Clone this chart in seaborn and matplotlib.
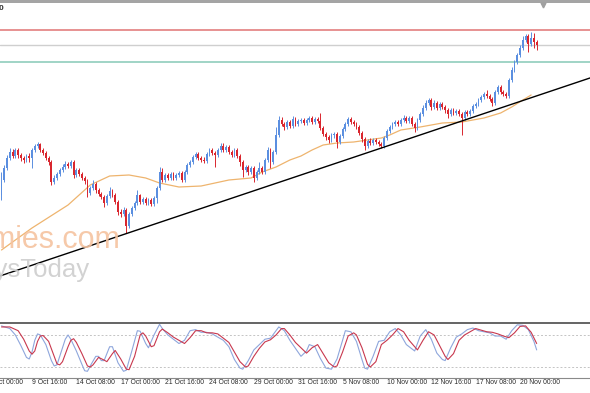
import matplotlib
matplotlib.use("Agg")
import matplotlib.pyplot as plt
from matplotlib.patches import Rectangle
from matplotlib.lines import Line2D
import matplotlib.transforms as mtransforms
import numpy as np
import pandas as pd
import seaborn as sns

# ---------------- data (H4 candles, price in chart points) ----------------
first_open = 205
closes = [220, 232, 242, 248, 244, 250, 245, 242, 240, 244,
          242, 250, 254, 256, 250, 247, 242, 238, 218, 222,
          226, 230, 233, 236, 234, 238, 225, 230, 226, 222,
          219, 207, 212, 216, 210, 206, 203, 197, 204, 209,
          205, 198, 188, 186, 190, 174, 186, 192, 197, 205,
          198, 201, 197, 200, 196, 202, 212, 228, 220, 225,
          222, 226, 222, 225, 227, 220, 228, 235, 238, 243,
          246, 242, 240, 239, 246, 250, 247, 245, 250, 254,
          250, 253, 248, 245, 250, 244, 238, 230, 233, 228,
          232, 222, 228, 232, 228, 240, 250, 238, 248, 265,
          280, 276, 273, 278, 274, 281, 276, 279, 280, 277,
          280, 282, 278, 281, 279, 272, 266, 263, 260, 265,
          266, 258, 264, 271, 276, 281, 278, 276, 273, 267,
          261, 254, 259, 257, 260, 258, 256, 254, 262, 269,
          273, 276, 278, 276, 280, 282, 279, 282, 276, 272,
          280, 286, 292, 297, 300, 293, 297, 292, 296, 293,
          290, 286, 290, 287, 289, 286, 282, 288, 286, 289,
          294, 296, 300, 303, 306, 304, 301, 297, 308, 313,
          308, 306, 304, 320, 330, 338, 345, 352, 360, 364,
          356, 362, 358, 355]
highs = [228, 235, 245, 252, 251, 252, 252, 247, 244, 246,
         247, 252, 256, 258, 257, 252, 249, 244, 240, 225,
         228, 232, 236, 239, 238, 240, 240, 232, 232, 228,
         224, 221, 214, 220, 218, 212, 208, 205, 206, 213,
         211, 207, 200, 191, 193, 192, 188, 194, 199, 210,
         206, 203, 203, 202, 202, 204, 214, 233, 232, 227,
         227, 228, 228, 227, 229, 229, 230, 237, 240, 245,
         248, 248, 244, 243, 248, 252, 252, 249, 252, 257,
         257, 255, 255, 250, 252, 252, 246, 240, 235, 235,
         234, 234, 230, 238, 234, 242, 253, 252, 250, 273,
         284, 283, 278, 280, 280, 284, 283, 281, 282, 282,
         282, 284, 284, 283, 283, 287, 274, 268, 265, 267,
         268, 268, 266, 273, 278, 283, 283, 280, 278, 275,
         269, 263, 261, 262, 262, 262, 260, 258, 264, 271,
         275, 278, 280, 280, 282, 285, 284, 284, 284, 278,
         282, 288, 295, 300, 302, 302, 300, 299, 298, 298,
         295, 292, 292, 292, 291, 291, 288, 290, 290, 291,
         296, 298, 302, 305, 308, 310, 306, 303, 310, 315,
         315, 310, 308, 322, 333, 340, 347, 355, 364, 366,
         366, 368, 367, 360]
lows = [200, 218, 230, 240, 242, 242, 242, 239, 237, 238,
        238, 232, 248, 252, 248, 245, 240, 235, 215, 216,
        220, 224, 228, 231, 232, 232, 222, 223, 224, 220,
        216, 203, 205, 210, 207, 204, 201, 193, 195, 202,
        203, 196, 185, 183, 184, 167, 172, 184, 190, 195,
        196, 196, 195, 195, 194, 194, 197, 210, 218, 218,
        220, 220, 220, 220, 223, 218, 218, 226, 233, 236,
        241, 240, 238, 237, 237, 244, 245, 233, 243, 248,
        248, 248, 246, 243, 243, 242, 234, 223, 228, 225,
        226, 218, 220, 226, 226, 226, 238, 232, 236, 246,
        263, 274, 270, 271, 272, 272, 274, 274, 277, 275,
        275, 278, 276, 276, 277, 270, 264, 260, 257, 258,
        262, 252, 256, 262, 269, 274, 276, 274, 271, 265,
        258, 250, 252, 255, 255, 256, 254, 252, 252, 260,
        267, 271, 274, 274, 274, 278, 277, 277, 274, 268,
        270, 278, 284, 290, 295, 290, 291, 290, 290, 291,
        287, 282, 284, 285, 285, 284, 265, 280, 284, 284,
        287, 292, 294, 298, 301, 302, 299, 294, 295, 306,
        306, 304, 302, 302, 318, 328, 336, 343, 350, 358,
        348, 354, 352, 350]

# 50-period moving average
ma_bars = [0, 11, 24, 32, 39, 46, 52, 57, 64, 72, 82, 90, 94, 99, 104, 108,
           112, 116, 121, 127, 132, 137, 140, 144, 151, 159, 166, 174, 180,
           184, 188, 191]
ma_vals = [150, 172, 195, 215, 224, 225, 222, 217, 213, 214, 220, 222, 228,
           233, 240, 244, 250, 255, 257, 258, 260, 262, 265, 270, 273, 277,
           278, 282, 287, 293, 300, 305]

# trend line anchors and horizontal levels
trend_bars = [45, 166]
trend_vals = [166.4, 279.0]
level_red = 370
level_gray = 355
level_teal = 338

# stochastic oscillator (%K blue, %D red)
k_bars = [0, 3, 5, 7, 9, 10, 11, 12, 13, 14, 16, 18, 19, 20, 21, 23, 24, 25,
          27, 29, 30, 31, 32, 34, 35, 36, 37, 39, 40, 42, 44, 45, 47, 49, 50,
          52, 53, 55, 57, 58, 60, 62, 64, 66, 68, 70, 72, 74, 76, 78, 80, 82,
          84, 86, 87, 89, 91, 93, 95, 97, 99, 100, 102, 104, 106, 108, 110,
          111, 113, 115, 117, 119, 121, 123, 124, 126, 128, 130, 131, 132, 134,
          136, 138, 140, 142, 144, 146, 148, 149, 151, 153, 155, 157, 159, 160,
          162, 164, 166, 168, 170, 172, 174, 176, 178, 180, 182, 184, 186, 188,
          190, 192, 193]
k_vals = [97, 92, 80, 60, 38, 35, 48, 70, 82, 80, 62, 32, 22, 24, 40, 72, 80,
          72, 50, 25, 13, 12, 22, 40, 40, 32, 32, 58, 58, 28, 12, 14, 50, 88,
          87, 64, 56, 80, 100, 92, 80, 72, 64, 70, 88, 90, 85, 85, 82, 76, 70,
          58, 34, 18, 16, 32, 52, 62, 72, 74, 88, 95, 88, 70, 55, 40, 50, 62,
          58, 36, 18, 16, 35, 70, 88, 86, 68, 34, 18, 16, 40, 68, 70, 86, 92,
          80, 62, 54, 50, 78, 90, 72, 46, 34, 32, 56, 76, 82, 90, 93, 88, 86,
          84, 78, 78, 72, 88, 99, 98, 90, 68, 52]
d_bars = [0, 3, 6, 8, 10, 11, 12, 13, 14, 15, 17, 19, 20, 21, 22, 24, 25, 26,
          27, 29, 31, 32, 33, 35, 37, 38, 40, 41, 43, 45, 46, 48, 50, 51, 52,
          54, 55, 57, 58, 60, 62, 64, 66, 68, 70, 72, 74, 76, 78, 80, 82, 84,
          86, 88, 89, 91, 93, 95, 97, 99, 101, 102, 104, 106, 108, 110, 112,
          114, 116, 118, 120, 121, 123, 125, 127, 128, 130, 132, 133, 135, 137,
          139, 141, 143, 145, 147, 149, 150, 152, 154, 156, 158, 160, 161, 163,
          165, 167, 169, 171, 173, 175, 177, 179, 181, 183, 185, 187, 189, 191,
          193]
d_vals = [95, 95, 88, 72, 50, 44, 50, 68, 78, 79, 68, 40, 26, 24, 30, 58, 70,
          73, 66, 45, 22, 20, 24, 38, 33, 30, 45, 51, 35, 16, 15, 40, 80, 84,
          78, 58, 60, 86, 91, 84, 76, 70, 64, 75, 88, 88, 84, 84, 82, 74, 66,
          48, 30, 20, 22, 40, 55, 67, 71, 80, 92, 92, 80, 66, 56, 46, 56, 62,
          45, 28, 20, 22, 48, 78, 84, 80, 56, 25, 20, 30, 62, 70, 80, 92, 86,
          70, 58, 52, 70, 86, 80, 60, 40, 34, 45, 70, 80, 86, 92, 89, 86, 85,
          82, 78, 75, 84, 96, 97, 85, 64]
stoch_levels = [20, 80]

# time axis labels (bar index where each label starts)
tick_bars = [-5, 11, 27, 43, 59, 75, 91, 107, 123, 139, 155, 171, 187]
tick_labels = ["7 Oct 00:00", "9 Oct 16:00", "14 Oct 08:00", "17 Oct 00:00",
               "21 Oct 16:00", "24 Oct 08:00", "29 Oct 00:00", "31 Oct 16:00",
               "5 Nov 08:00", "10 Nov 00:00", "12 Nov 16:00", "17 Nov 08:00",
               "20 Nov 00:00"]

# ---------------- styling ----------------
sns.set_theme(style="white")
plt.rcParams["font.family"] = ["Liberation Sans", "DejaVu Sans"]

W, H = 590, 393
BULL = "#5b8fe0"
BEAR = "#d9262e"


def fy(py):
    return (H - py) / H


fig = plt.figure(figsize=(W / 100, H / 100), dpi=100)
fig.patch.set_facecolor("white")

ax = fig.add_axes([0, fy(319), 1, fy(3) - fy(319)])
ax2 = fig.add_axes([0, fy(377.7), 1, fy(323) - fy(377.7)])

xlim = (-0.54, 212.23)

# ---------------- main price panel ----------------
df = pd.DataFrame({"close": closes, "high": highs, "low": lows})
df["open"] = [first_open] + closes[:-1]
df["bar"] = np.arange(len(df))
df["up"] = df["close"] >= df["open"]
df["color"] = np.where(df["up"], BULL, BEAR)
body_low = np.minimum(df["open"], df["close"])
body_h = np.maximum(np.abs(df["close"] - df["open"]), 0.8)

ax.vlines(df["bar"], df["low"], df["high"], colors=df["color"], lw=0.7, zorder=3)
ax.bar(df["bar"], body_h, bottom=body_low, width=0.66, color=df["color"],
       linewidth=0, zorder=4)

for lvl, col, lw in [(level_red, "#e07474", 1.1), (level_gray, "#cfcfcf", 1.0),
                     (level_teal, "#86c9b6", 1.1)]:
    ax.axhline(lvl, color=col, lw=lw, zorder=1)

ma_df = pd.DataFrame({"bar": ma_bars, "ma": ma_vals})
sns.lineplot(data=ma_df, x="bar", y="ma", ax=ax, color="#eeb46e", lw=0.9,
             sort=False, zorder=2)

ax.axline((trend_bars[0], trend_vals[0]), (trend_bars[1], trend_vals[1]),
          color="black", lw=1.0, zorder=5)

ax.set_xlim(*xlim)
ax.set_ylim(81, 397)
ax.set_xticks([])
ax.set_yticks([])
ax.set_xlabel("")
ax.set_ylabel("")
for s in ax.spines.values():
    s.set_visible(False)
ax.patch.set_alpha(0)

# ---------------- stochastic panel ----------------
k_df = pd.DataFrame({"bar": k_bars, "val": k_vals})
d_df = pd.DataFrame({"bar": d_bars, "val": d_vals})
for lvl in stoch_levels:
    ax2.axhline(lvl, color="#c4c4c4", lw=0.7, ls=(0, (2, 2)), zorder=1)
sns.lineplot(data=k_df, x="bar", y="val", ax=ax2, color="#8ea6dc", lw=0.8,
             sort=False, zorder=2)
sns.lineplot(data=d_df, x="bar", y="val", ax=ax2, color="#c8384e", lw=0.8,
             sort=False, zorder=3)
ax2.set_xlim(*xlim)
ax2.set_ylim(0, 102.4)
ax2.set_xticks([])
ax2.set_yticks([])
ax2.set_xlabel("")
ax2.set_ylabel("")
for side in ["left", "right"]:
    ax2.spines[side].set_visible(False)
ax2.spines["top"].set_color("#4a4a4a")
ax2.spines["top"].set_linewidth(1.2)
ax2.spines["bottom"].set_color("#8a8a8a")
ax2.spines["bottom"].set_linewidth(0.8)

trans = mtransforms.blended_transform_factory(ax2.transData, fig.transFigure)
for b, lab in zip(tick_bars, tick_labels):
    ax2.text(b, fy(383), lab, transform=trans, ha="left", va="center",
             fontsize=4.9, color="#2a2a2a", clip_on=False)

# ---------------- decorations ----------------
fig.patches.append(Rectangle((0, fy(3)), 1, 3 / H, transform=fig.transFigure,
                             facecolor="#a4a4a4", edgecolor="none", zorder=0))
fig.add_artist(Line2D([543 / W], [fy(5)], marker="v", color="#a0a0a0",
                      markersize=3.5, linestyle="none",
                      transform=fig.transFigure))
fig.text(3.5 / W, fy(8), "0", ha="right", va="center", fontsize=6,
         color="#333333", fontweight="bold")

fig.text(121 / W, fy(248), "economies.com", ha="right", va="baseline",
         fontsize=22, color="#f5c3a0", alpha=0.9, zorder=0)
fig.text(90 / W, fy(277), "EconomysToday", ha="right", va="baseline",
         fontsize=18.5, color="#cdcdcd", alpha=0.9, zorder=0)

fig.savefig("out.png", dpi=100, facecolor="white")
